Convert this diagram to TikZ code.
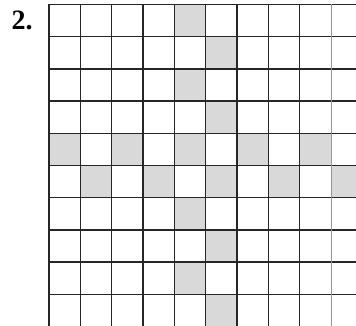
\documentclass[tikz,border=0pt]{standalone}
\usepackage{fontspec}
\setmainfont{Liberation Serif}
\definecolor{cellgrey}{HTML}{D9D9D9}
\definecolor{gridgreen}{HTML}{4CC94C}
\tikzset{
  gridline/.style={draw=black!85, line width=1.3pt},
  greenline/.style={draw=gridgreen, line width=1.3pt},
  cell/.style={fill=cellgrey},
  numlabel/.style={font=\bfseries\fontsize{28}{30}\selectfont, inner sep=0pt, anchor=north west}
}
\begin{document}
\begin{tikzpicture}[x=1pt,y=-1pt]
\useasboundingbox (0,0) rectangle (356,326);
\fill[white] (0,0) rectangle (356,326);
\clip (0,0) rectangle (356,326);
\def\xo{49}\def\yo{4.5}\def\dx{31.35}\def\dy{32.2}
% vertical zigzag
\foreach \r in {0,...,9}{
  \pgfmathtruncatemacro{\c}{4+mod(\r,2)}
  \fill[cell] ({\xo+\c*\dx},{\yo+\r*\dy}) rectangle ++(\dx,\dy);
}
% horizontal zigzag
\foreach \c in {0,2,4,6,8}{
  \fill[cell] ({\xo+\c*\dx},{\yo+4*\dy}) rectangle ++(\dx,\dy);
}
\foreach \c in {1,3,5,7,9}{
  \fill[cell] ({\xo+\c*\dx},{\yo+5*\dy}) rectangle ++(\dx,\dy);
}
% grid lines
\foreach \j in {0,...,9}{
  \draw[gridline] (\xo,{\yo+\j*\dy}) -- (356,{\yo+\j*\dy});
}
\foreach \i in {0,...,8}{
  \draw[gridline] ({\xo+\i*\dx},\yo) -- ({\xo+\i*\dx},326);
}
\draw[greenline] ({\xo+9*\dx},\yo) -- ({\xo+9*\dx},326);
\node[numlabel] (num) at (11.5,10.5) {2.};
\end{tikzpicture}
\end{document}
